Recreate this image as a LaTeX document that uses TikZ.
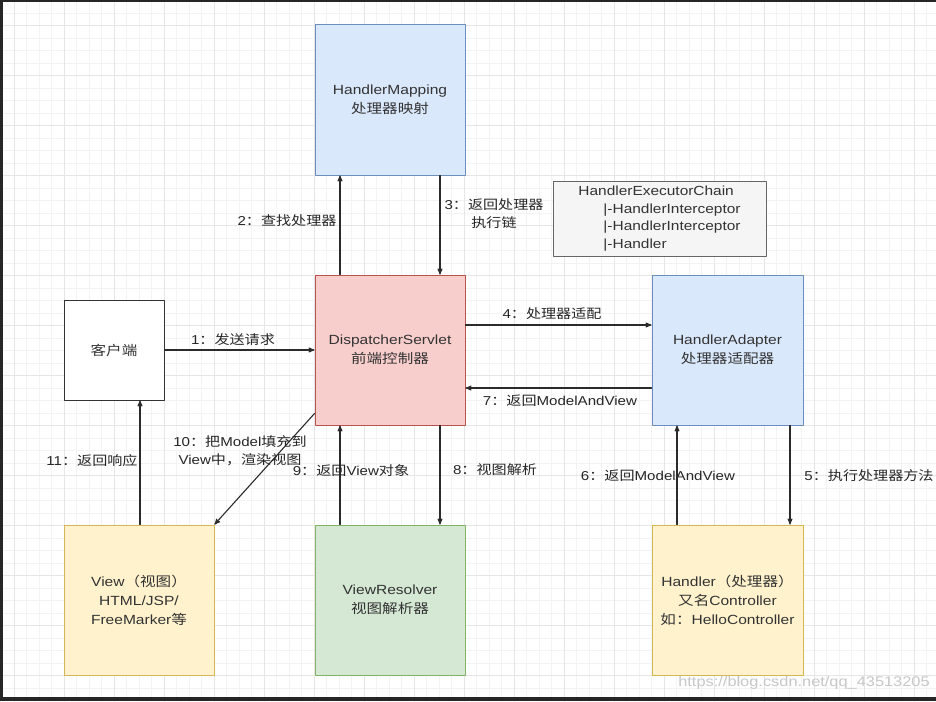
\documentclass[tikz,border=0pt]{standalone}
\usepackage{fontspec}
\setmainfont{Liberation Sans}[FakeStretch=1.17]
\newfontfamily\zhfont{Noto Sans CJK SC}[FakeStretch=1.17]
\newcommand{\zh}[1]{{\zhfont #1}}
\usepackage{tikz}
\usetikzlibrary{arrows}
\usetikzlibrary{positioning}

\definecolor{gridminor}{HTML}{F3F3F3}
\definecolor{gridmajor}{HTML}{E6E6E6}
\definecolor{frameband}{HTML}{262626}
\definecolor{bluefill}{HTML}{DAE8FC}
\definecolor{blueline}{HTML}{6C8EBF}
\definecolor{redfill}{HTML}{F8CECC}
\definecolor{redline}{HTML}{B85450}
\definecolor{yellowfill}{HTML}{FFF2CC}
\definecolor{yellowline}{HTML}{D6B656}
\definecolor{greenfill}{HTML}{D5E8D4}
\definecolor{greenline}{HTML}{82B366}
\definecolor{grayfill}{HTML}{F5F5F5}
\definecolor{grayline}{HTML}{666666}
\definecolor{boxtext}{HTML}{333333}
\definecolor{arrowline}{HTML}{2B2B2B}

\tikzset{
  bigbox/.style={draw,line width=1pt,minimum width=150pt,minimum height=150pt,inner sep=0pt,align=center,text=boxtext,font=\fontsize{13.3}{19}\selectfont},
  steplabel/.style={align=center,text=black!85,font=\fontsize{12.9}{18}\selectfont},
  flow/.style={->,line width=1.1pt,color=arrowline}
}

\begin{document}
\begin{tikzpicture}[line cap=round,line join=round,>=stealth',x=1pt,y=-1pt]
\useasboundingbox (0,0) rectangle (936,701);
\fill[white] (0,0) rectangle (936,701);
\foreach \x in {1.5,14,...,936}
\draw[color=gridminor,line width=0.8pt] (\x,0) -- (\x,701);
\foreach \y in {0.5,13,...,701}
\draw[color=gridminor,line width=0.8pt] (0,\y) -- (936,\y);
\foreach \x in {14,64,...,936}
\draw[color=gridmajor,line width=0.9pt] (\x,0) -- (\x,701);
\foreach \y in {25,75,...,701}
\draw[color=gridmajor,line width=0.9pt] (0,\y) -- (936,\y);
\fill[frameband] (0,0) rectangle (936,2);
\fill[frameband] (0,0) rectangle (3,701);
\fill[frameband] (0,697) rectangle (936,701);

\node[bigbox,fill=bluefill,draw=blueline] (hm) at (390,100) {HandlerMapping\\\zh{处理器映射}};
\node[bigbox,fill=redfill,draw=redline] (ds) at (390,350) {DispatcherServlet\\\zh{前端控制器}};
\node[bigbox,fill=white,draw=black!80,minimum width=100pt,minimum height=100pt] (cl) at (114,350) {\zh{客户端}};
\node[bigbox,fill=bluefill,draw=blueline,minimum width=151pt] (ha) at (727.5,350) {HandlerAdapter\\\zh{处理器适配器}};
\node[bigbox,fill=grayfill,draw=grayline,minimum width=213pt,minimum height=75pt,align=left,font=\fontsize{13.2}{17.7}\selectfont] (chain) at (659.5,218.5) {HandlerExecutorChain\\\hspace*{25pt}|-HandlerInterceptor\\\hspace*{25pt}|-HandlerInterceptor\\\hspace*{25pt}|-Handler};
\node[bigbox,fill=yellowfill,draw=yellowline] (vw) at (139,600) {View\zh{（视图）}\\HTML/JSP/\\FreeMarker\zh{等}};
\node[bigbox,fill=greenfill,draw=greenline] (vr) at (390,600) {ViewResolver\\\zh{视图解析器}};
\node[bigbox,fill=yellowfill,draw=yellowline,minimum width=151pt] (hd) at (727.5,600) {Handler\zh{（处理器）}\\\zh{又名}Controller\\\zh{如：}HelloController};

\draw[flow] (cl.east) -- (ds.west);
\draw[flow] ([xshift=-50pt]ds.north) -- ([xshift=-50pt]hm.south);
\draw[flow] ([xshift=50pt]hm.south) -- ([xshift=50pt]ds.north);
\draw[flow] ([yshift=25pt]ds.east) -- ([yshift=25pt]ha.west);
\draw[flow] ([xshift=62.5pt]ha.south) -- ([xshift=62.5pt]hd.north);
\draw[flow] ([xshift=-50.5pt]hd.north) -- ([xshift=-50.5pt]ha.south);
\draw[flow] ([yshift=-38pt]ha.west) -- ([yshift=-38pt]ds.east);
\draw[flow] ([xshift=50pt]ds.south) -- ([xshift=50pt]vr.north);
\draw[flow] ([xshift=-50pt]vr.north) -- ([xshift=-50pt]ds.south);
\draw[flow] ([yshift=12pt]ds.south west) -- (vw.north east);
\draw[flow] ([xshift=1pt]vw.north) -- ([xshift=1pt]vw.north |- cl.south);

\node[steplabel] (s1) at (233,340) {1\zh{：发送请求}};
\node[steplabel] (s2) at (287,221) {2\zh{：查找处理器}};
\node[steplabel] (s3) at (494,214) {3\zh{：返回处理器}\\\zh{执行链}};
\node[steplabel] (s4) at (552,314) {4\zh{：处理器适配}};
\node[steplabel] (s5) at (869,476) {5\zh{：执行处理器方法}};
\node[steplabel] (s6) at (658,476) {6\zh{：返回}ModelAndView};
\node[steplabel] (s7) at (560,401) {7\zh{：返回}ModelAndView};
\node[steplabel] (s8) at (495,470) {8\zh{：视图解析}};
\node[steplabel] (s9) at (351,471) {9\zh{：返回}View\zh{对象}};
\node[steplabel] (s10) at (240,451) {10\zh{：把}Model\zh{填充到}\\View\zh{中，渲染视图}};
\node[steplabel] (s11) at (92,461) {11\zh{：返回响应}};
\node[text=black!22,font=\fontsize{14}{16}\selectfont] (mark) at (804,683) {https://blog.csdn.net/qq\_43513205};
\end{tikzpicture}
\end{document}
